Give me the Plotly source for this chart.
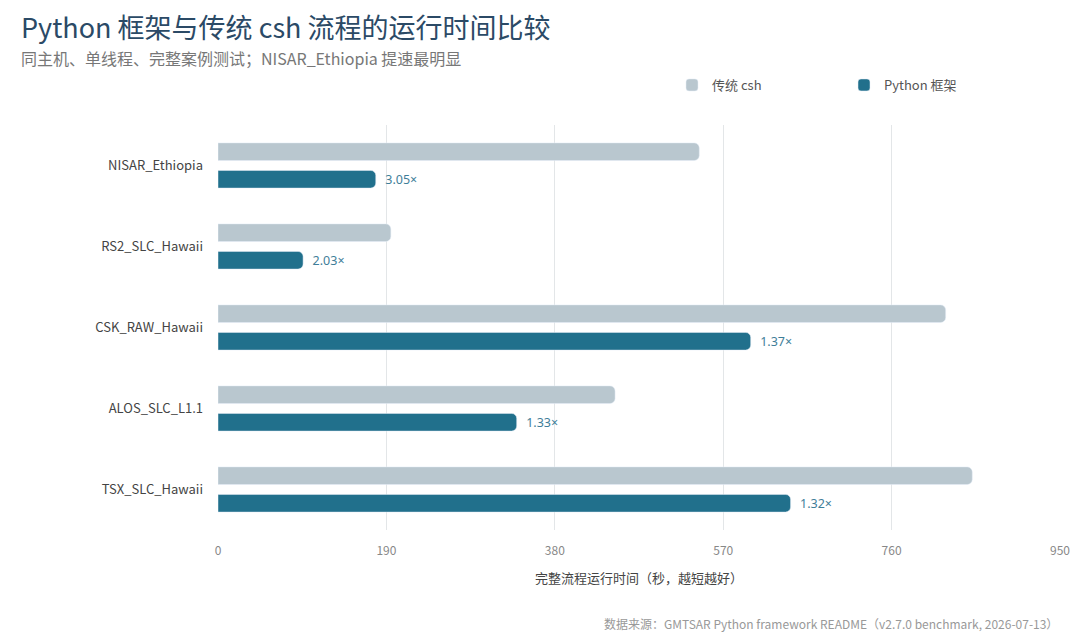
import plotly.graph_objects as go

cases = ["NISAR_Ethiopia", "RS2_SLC_Hawaii", "CSK_RAW_Hawaii", "ALOS_SLC_L1.1", "TSX_SLC_Hawaii"]
csh_seconds = [543, 195, 821, 448, 851]
python_seconds = [178, 96, 601, 337, 646]
x_ticks = [0, 190, 380, 570, 760, 950]

speedup = [f"  {c / p:.2f}×" for c, p in zip(csh_seconds, python_seconds)]

FONT = "Noto Sans CJK SC, Noto Sans, sans-serif"

# the page body has an 8px margin, so positions below are shifted by 8px
fig = go.Figure()
fig.add_trace(go.Bar(
    y=cases, x=csh_seconds, orientation="h", name="传统 csh",
    marker=dict(color="#b9c7cf"), hoverinfo="x+name",
))
fig.add_trace(go.Bar(
    y=cases, x=python_seconds, orientation="h", name="Python 框架",
    marker=dict(color="#21708c"),
    text=speedup, textposition="outside", cliponaxis=False,
    textfont=dict(color="#3f7e99", size=12.5, family="Noto Sans, sans-serif"),
    hoverinfo="x+name",
))

fig.update_layout(
    width=1080, height=641,
    paper_bgcolor="white", plot_bgcolor="white",
    font=dict(family=FONT, color="#444"),
    margin=dict(l=210, r=28, t=117, b=119, autoexpand=False),
    barmode="group", bargap=0.32, bargroupgap=0.36, barcornerradius=5,
    legend=dict(
        orientation="h", xref="container", yref="container",
        x=664 / 1080, xanchor="left", y=1 - 77 / 641, yanchor="middle",
        font=dict(size=13, color="#555"), entrywidth=127, traceorder="normal",
        itemwidth=30,
    ),
    xaxis=dict(
        range=[0, 950], tickvals=x_ticks, showgrid=True, gridcolor="#e3e6e8",
        gridwidth=1, zeroline=False, showline=False, ticks="", automargin=False,
        ticklabelstandoff=12, tickfont=dict(size=12, color="#888"),
        title=dict(text="完整流程运行时间（秒，越短越好）", font=dict(size=13, color="#444"), standoff=16),
    ),
    yaxis=dict(
        autorange="reversed", showgrid=False, ticks="", ticklabelstandoff=14,
        automargin=False, tickfont=dict(size=13, color="#444"),
    ),
    annotations=[
        dict(text="Python 框架与传统 csh 流程的运行时间比较",
             xref="paper", yref="paper", x=(11 - 210) / 842, y=(522 - 19) / 405,
             xanchor="left", yanchor="middle",
             showarrow=False, font=dict(size=27, color="#2b4a66")),
        dict(text="同主机、单线程、完整案例测试；NISAR_Ethiopia 提速最明显",
             xref="paper", yref="paper", x=(11 - 210) / 842, y=(522 - 50) / 405,
             xanchor="left", yanchor="middle",
             showarrow=False, font=dict(size=16, color="#777")),
        dict(text="数据来源：GMTSAR Python framework README（v2.7.0 benchmark, 2026-07-13）",
             xref="paper", yref="paper", x=1.0, y=(522 - 615) / 405,
             xanchor="right", yanchor="middle",
             showarrow=False, font=dict(size=12, color="#999")),
    ],
)

fig.write_html("out.html")
